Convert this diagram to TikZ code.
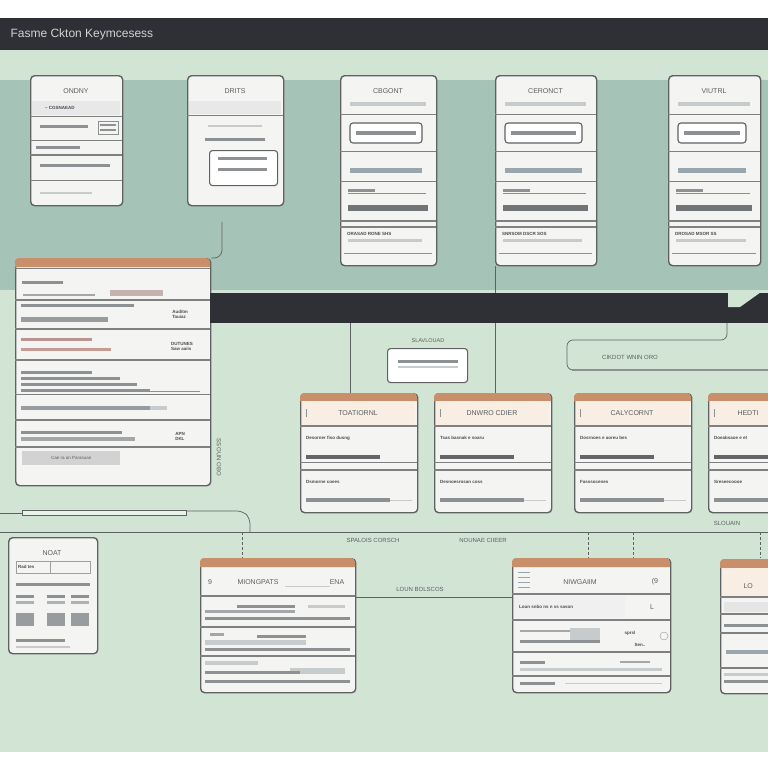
\documentclass[tikz,border=0pt]{standalone}
\usepackage{fontspec}
\setmainfont{Liberation Sans}
\usetikzlibrary{positioning}

\definecolor{bggreen}{HTML}{D2E4D4}
\definecolor{tealband}{HTML}{A5C4B7}
\definecolor{panel}{HTML}{2E3035}
\definecolor{edge}{HTML}{5F6262}
\definecolor{cardfill}{HTML}{F4F4F3}
\definecolor{tabtan}{HTML}{C98E6A}
\definecolor{cream}{HTML}{F8EEE3}
\definecolor{barcol}{HTML}{8D9194}
\definecolor{lightbar}{HTML}{C8CBCC}
\definecolor{barblue}{HTML}{9AA6AE}
\definecolor{rose}{HTML}{C99A94}
\definecolor{textgray}{HTML}{5A5E60}

\tikzset{
  card/.style={draw=edge, line width=1.4pt, rounded corners=4pt, fill=cardfill, inner sep=0pt, anchor=north west},
  cardsize/.style 2 args={minimum width=#1pt, minimum height=#2pt},
  inbox/.style={draw=edge, line width=1.1pt, rounded corners=3pt, fill=white},
  sep/.style={draw=edge!80, line width=0.8pt},
  wire/.style={draw=edge, line width=0.7pt},
  lbl/.style={font=\fontsize{7}{8}\selectfont, text=textgray},
  smalltxt/.style={font=\fontsize{4.5}{5}\selectfont\bfseries, text=textgray!80!black, inner sep=1pt},
  head/.style={font=\fontsize{12}{14}\selectfont, text=gray!35}
}
\newcommand{\fakeline}[3]{\fill[barcol] (#1,#2) rectangle (#3,#2+3);}

\begin{document}
\begin{tikzpicture}[x=1pt,y=-1pt]
\useasboundingbox (0,0) rectangle (768,768);
\clip (0,0) rectangle (768,768);

% background
\fill[white] (0,0) rectangle (768,768);
\fill[bggreen] (0,50) rectangle (768,752);
\fill[tealband] (0,80) rectangle (768,290);
\fill[panel] (0,18) rectangle (768,50);
\node[head, anchor=west] (header) at (7,34) {Fasme Ckton Keymcesess};

% top cards
\node[card, cardsize={92}{130}] (ondny) at (30,75) {};
\node[lbl] at (76,91) {ONDNY};
\fill[gray!18] (32,101) rectangle (120,115);
\node[smalltxt, anchor=west] at (44,108) {-- CGSNAEAD};
\draw[sep] (30,116) -- (122,116);
\fakeline{40}{125}{88}
\draw[edge!70] (98,121) rectangle (118,134);
\fill[barcol] (100,124) rectangle (116,126);
\fill[barcol] (100,129) rectangle (116,131);
\draw[sep] (30,140) -- (122,140);
\fakeline{36}{146}{80}
\draw[sep, line width=1.2pt] (30,155) -- (122,155);
\fakeline{40}{164}{110}
\draw[sep] (30,180) -- (122,180);
\fill[lightbar] (40,192) rectangle (92,194);

\node[card, cardsize={96}{130}] (drits) at (187,75) {};
\node[lbl] at (235,91) {DRITS};
\fill[gray!18] (189,101) rectangle (281,114);
\draw[sep] (187,115) -- (283,115);
\fill[lightbar] (208,125) rectangle (262,127);
\fakeline{205}{138}{265}
\node[card, inbox, cardsize={68}{35}] (dritsbox) at (209,150) {};
\fakeline{218}{157}{267}
\fakeline{218}{168}{267}

\foreach \x/\w/\ttl/\nm/\foot in {340/96/CBGONT/cbgont/{ORASAD RONE SHS}, 495/101/CERONCT/ceronct/{SNRSOM DSCR SOS}, 668/92/VIUTRL/viutrl/{DROSAD MSOR SS}} {
  \node[card, cardsize={\w}{190}] (\nm) at (\x,75) {};
  \node[lbl] at (\x+\w/2,91) {\ttl};
  \fill[lightbar] (\x+10,102) rectangle (\x+\w-10,106);
  \draw[sep] (\x,114) -- (\x+\w,114);
  \draw[inbox] (\x+10,123) rectangle (\x+\w-14,143);
  \fill[barcol] (\x+16,131) rectangle (\x+\w-20,135);
  \draw[sep] (\x,151) -- (\x+\w,151);
  \fill[barblue] (\x+10,168) rectangle (\x+\w-14,173);
  \draw[sep] (\x,181) -- (\x+\w,181);
  \fill[barcol] (\x+8,189) rectangle (\x+35,192);
  \draw[barcol] (\x+8,193) -- (\x+\w-10,193);
  \fill[barcol!80!black] (\x+8,205) rectangle (\x+\w-8,211);
  \draw[sep, line width=1.4pt] (\x,221) -- (\x+\w,221);
  \draw[sep, line width=1.4pt] (\x,227) -- (\x+\w,227);
  \node[smalltxt, anchor=west] at (\x+6,234) {\foot};
  \fill[lightbar] (\x+8,239) rectangle (\x+\w-14,242);
  \draw[barcol, line width=1pt] (\x+4,253) -- (\x+\w-4,253);
}

% left ledger
\node[card, cardsize={195}{227}] (ledger) at (15,258) {};
\fill[tabtan] (15,267) {[rounded corners=4pt] -- (15,258) -- (210,258)} -- (210,267) -- cycle;
\draw[sep] (15,268) -- (210,268);
\fakeline{22}{281}{63}
\fill[barcol!80] (23,294) rectangle (95,296);
\fill[rose!60!gray!70] (110,290) rectangle (163,296);
\draw[sep, line width=1.4pt] (15,300) -- (210,300);
\fakeline{21}{304}{134}
\fill[barcol!90] (21,317) rectangle (108,322);
\node[smalltxt, align=left] at (180,314) {Auditm\\Tauiaz};
\draw[sep, line width=1.4pt] (15,329) -- (210,329);
\fill[rose!80!gray] (21,338) rectangle (92,341);
\fill[rose] (21,348) rectangle (111,351);
\node[smalltxt, align=left] at (182,346) {DUTUNES\\Saw aaiis};
\draw[sep, line width=1.4pt] (15,360) -- (210,360);
\fakeline{21}{371}{92}
\fakeline{21}{377}{120}
\fakeline{21}{383}{137}
\fakeline{21}{389}{150}
\draw[barcol] (90,391) -- (200,391);
\draw[sep] (15,394) -- (210,394);
\fill[barcol!90] (21,406) rectangle (150,410);
\fill[lightbar] (150,406) rectangle (167,410);
\draw[sep, line width=1.4pt] (15,420) -- (210,420);
\fakeline{21}{431}{122}
\fill[barcol!80] (21,437) rectangle (135,441);
\node[smalltxt, align=left] at (180,436) {APN\\DKL};
\draw[sep, line width=1.4pt] (15,447) -- (210,447);
\node[fill=gray!35, minimum width=98pt, minimum height=14pt, inner sep=0pt, anchor=north west,
  font=\fontsize{4.5}{5}\selectfont, text=textgray] (ledgerfoot) at (22,451) {Cae ra an Parasuan};
\node[lbl, rotate=-90, font=\fontsize{6}{7}\selectfont] (sidenote) at (219,457) {SS OUN OBO};

% middle cards
\foreach \x/\ttl/\tx/\nm/\ra/\rb in {300/TOATIORNL/58/toat/{Desorner fiso dusng}/{Dsmorne coees},
  434/{DNWRO CDIER}/58/dnwro/{Tsas basnak e soaru}/{Desnoesrosan coss},
  574/CALYCORNT/58/caly/{Dosrnoes e aoreu bes}/{Fasssocenes},
  708/HEDTI/40/hedti/{Doeabsaoe e et}/{Sreseecoooe}} {
  \node[card, cardsize={117}{119}] (\nm) at (\x,393) {};
  \fill[tabtan] (\x,401) {[rounded corners=4pt] -- (\x,393) -- (\x+117,393)} -- (\x+117,401) -- cycle;
  \fill[cream] (\x+2,401) rectangle (\x+115,425);
  \draw[barcol] (\x+6,409) -- (\x+6,417);
  \node[lbl] at (\x+\tx,413) {\ttl};
  \draw[sep, line width=1.4pt] (\x,426) -- (\x+117,426);
  \node[smalltxt, anchor=west] at (\x+5,438) {\ra};
  \fill[barcol!70!black] (\x+6,455) rectangle (\x+80,459);
  \draw[sep] (\x,462) -- (\x+117,462);
  \draw[sep, line width=1.4pt] (\x,470) -- (\x+117,470);
  \node[smalltxt, anchor=west] at (\x+5,482) {\rb};
  \fill[barcol] (\x+6,498) rectangle (\x+90,502);
  \draw[lightbar] (\x+90,500) -- (\x+112,500);
}

% small box and note
\node[lbl, font=\fontsize{5.5}{6}\selectfont] (slavlabel) at (428,341) {SLAVLOUAD};
\node[card, inbox, cardsize={80}{34}] (slav) at (387,348) {};
\fakeline{398}{360}{458}
\fill[lightbar] (398,366) rectangle (458,368);

% bottom cards
\node[card, cardsize={89}{116}] (noat) at (8,537) {};
\node[lbl] at (52,553) {NOAT};
\draw[edge!60] (16,561) rectangle (90,573);
\draw[edge!60] (50,561) -- (50,573);
\node[smalltxt, anchor=west] at (17,567) {Rad tes};
\fakeline{16}{583}{90}
\foreach \c in {16,47,71} {
  \fill[barcol] (\c,595) rectangle (\c+18,598);
  \fill[barcol!70] (\c,601) rectangle (\c+18,604);
  \fill[barcol!90] (\c,613) rectangle (\c+18,626);
}
\fakeline{16}{639}{65}
\fill[lightbar] (16,646) rectangle (70,648);

\node[card, cardsize={155}{134}] (mion) at (200,558) {};
\fill[tabtan] (200,567) {[rounded corners=4pt] -- (200,558) -- (355,558)} -- (355,567) -- cycle;
\node[lbl] at (210,582) {9};
\node[lbl] at (258,582) {MIONGPATS};
\node[lbl] at (337,582) {ENA};
\draw[lightbar] (285,586) -- (330,586);
\draw[sep, line width=1.4pt] (200,596) -- (355,596);
\fakeline{237}{605}{295}
\fill[lightbar] (308,605) rectangle (345,608);
\fill[barcol!80] (205,610) rectangle (295,613);
\fakeline{205}{617}{350}
\draw[sep, line width=1.4pt] (200,627) -- (355,627);
\fill[barcol!80] (210,633) rectangle (224,636);
\fakeline{257}{635}{306}
\fill[lightbar] (205,640) rectangle (306,645);
\fakeline{205}{648}{350}
\draw[sep, line width=1.4pt] (200,656) -- (355,656);
\fill[lightbar] (205,661) rectangle (258,665);
\fill[lightbar] (290,668) rectangle (345,674);
\fakeline{205}{671}{300}
\fakeline{205}{680}{350}

\node[card, cardsize={158}{134}] (niwg) at (512,558) {};
\fill[tabtan] (512,567) {[rounded corners=4pt] -- (512,558) -- (670,558)} -- (670,567) -- cycle;
\foreach \r in {572,577,582,587} {\draw[barblue] (518,\r) -- (530,\r);}
\node[lbl] at (580,582) {NIWGAIIM};
\node[lbl] at (655,582) {(9};
\draw[sep, line width=1.4pt] (512,594) -- (670,594);
\fill[gray!12] (514,596) rectangle (625,618);
\node[smalltxt, anchor=west] at (518,607) {Loun snbo ns n ss sason};
\node[lbl] at (652,607) {L};
\draw[sep, line width=1.4pt] (512,620) -- (670,620);
\fill[barcol!80] (520,630) rectangle (570,632);
\fill[lightbar] (570,628) rectangle (600,640);
\fakeline{520}{640}{600}
\node[smalltxt] at (630,633) {sprsl};
\draw[edge!70] (664,636) circle (4pt);
\node[smalltxt] at (640,645) {Sen..};
\draw[sep, line width=1.4pt] (512,652) -- (670,652);
\fakeline{520}{661}{545}
\fill[barcol!80] (620,661) rectangle (650,663);
\fill[lightbar] (520,668) rectangle (662,671);
\draw[sep, line width=1.4pt] (512,676) -- (670,676);
\fakeline{520}{682}{555}
\fill[lightbar] (565,683) rectangle (662,684);

\node[card, cardsize={60}{134}] (lounix) at (720,559) {};
\fill[tabtan] (720,568) {[rounded corners=4pt] -- (720,559) -- (780,559)} -- (780,568) -- cycle;
\fill[cream] (722,568) rectangle (768,596);
\node[lbl, anchor=west] at (740,586) {LO};
\draw[sep, line width=1.4pt] (720,597) -- (768,597);
\fill[gray!20] (724,602) rectangle (768,612);
\draw[sep, line width=1.4pt] (720,614) -- (768,614);
\fakeline{724}{624}{768}
\draw[sep, line width=1.4pt] (720,633) -- (768,633);
\fill[barblue] (726,650) rectangle (768,654);
\draw[sep, line width=1.4pt] (720,668) -- (768,668);
\fill[lightbar] (724,673) rectangle (768,676);
\fakeline{724}{680}{768}

% links
\draw[wire] (dnwro.north -| ceronct.south west) -- (ceronct.south west);
\node[fill=panel, minimum width=558pt, minimum height=30pt, inner sep=0pt, anchor=north west] (bar) at (210,293) {};
\fill[bggreen] (728,292) -- (761,292) -- (740,307) -- (728,307) -- cycle;
\coordinate (toatLink) at (350,0);
\draw[wire] (bar.south -| toatLink) -- (toat.north -| toatLink);
\coordinate (dritsTail) at (222,222);
\draw[wire, rounded corners=8pt] (dritsTail) |- (ledger.north east);
\coordinate (ckTop) at (727,323);
\draw[wire, rounded corners=6pt] (ckTop) -- (727,340) -- (567,340) -- (567,370) -- (768,370);
\draw[barcol, line width=1.8pt] (572,370) -- (768,370);
\node[lbl, font=\fontsize{6}{7}\selectfont] (ckdot) at (630,357) {CIKDOT WNIN ORO};
\node[lbl, font=\fontsize{6}{7}\selectfont] (slouain) at (727,523) {SLOUAIN};

\coordinate (busL) at (0,532);
\coordinate (busR) at (768,532);
\draw[wire] (busL) -- (busR);
\draw[wire] (0,513) -- (22,513);
\draw[wire, fill=bggreen!50!white] (22,510) rectangle (186,515);
\draw[wire, rounded corners=6pt] (186,511) -- (243,511) -- (250,518) -- (250,532);
\node[lbl, font=\fontsize{6}{7}\selectfont] (spalois) at (373,540) {SPALOIS CORSCH};
\node[lbl, font=\fontsize{6}{7}\selectfont] (nounae) at (483,540) {NOUNAE CIIEER};
\foreach \c in {242,588,633,760} {
  \coordinate (drop) at (\c,0);
  \draw[wire, densely dashed] (busL -| drop) -- (\c,558);
}
\coordinate (lk) at (0,597);
\draw[wire] (mion.east |- lk) -- (niwg.west |- lk);
\node[lbl, font=\fontsize{6}{7}\selectfont] (lounb) at (420,589) {LOUN BOLSCOS};
\end{tikzpicture}
\end{document}
